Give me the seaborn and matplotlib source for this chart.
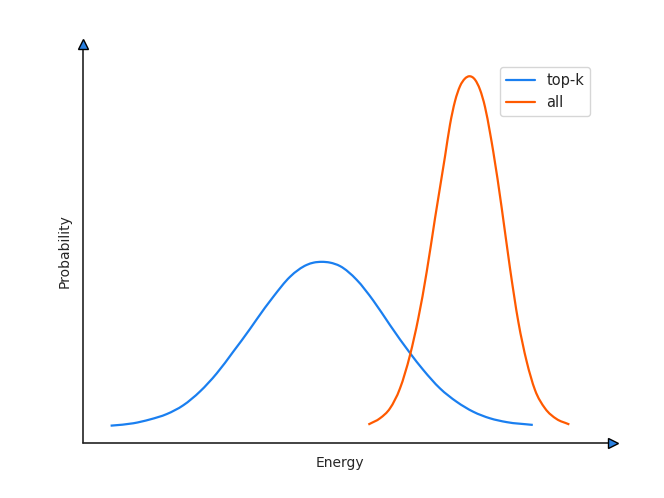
import matplotlib
matplotlib.use("Agg")
import matplotlib.pyplot as plt
from matplotlib.path import Path
from matplotlib.patches import PathPatch
from matplotlib.lines import Line2D
import seaborn as sns
import numpy as np

# Energy / probability values (arbitrary units)
topk_energy = [0.558, 0.977, 1.302, 1.627, 1.949, 2.274, 2.598, 2.921, 3.245, 3.375,
               3.698, 4.023, 4.347, 4.483, 4.639, 4.800, 4.994, 5.319, 5.641, 5.966,
               6.355, 6.613, 6.937, 7.262, 7.585, 7.909, 8.234, 8.719]
topk_prob = [0.046, 0.052, 0.062, 0.076, 0.099, 0.135, 0.182, 0.239, 0.298, 0.323,
             0.382, 0.434, 0.465, 0.471, 0.473, 0.471, 0.462, 0.426, 0.372, 0.308,
             0.235, 0.191, 0.143, 0.108, 0.082, 0.065, 0.055, 0.048]

all_energy = [5.564, 5.771, 5.966, 6.160, 6.355, 6.516, 6.679, 6.841, 7.035, 7.132,
              7.229, 7.326, 7.423, 7.507, 7.618, 7.715, 7.812, 7.909, 7.973, 8.137,
              8.298, 8.459, 8.622, 8.783, 8.978, 9.205, 9.431]
all_prob = [0.050, 0.065, 0.091, 0.143, 0.230, 0.326, 0.447, 0.587, 0.748, 0.831,
            0.892, 0.931, 0.951, 0.957, 0.948, 0.922, 0.877, 0.810, 0.760, 0.613,
            0.456, 0.317, 0.213, 0.139, 0.091, 0.063, 0.050]

series_labels = ["top-k", "all"]
series_colors = ["#1a7ff0", "#ff5a00"]
x_label = "Energy"
y_label = "Probability"

sns.set_style("white")
plt.rcParams["font.family"] = ["DejaVu Sans"]

fig = plt.figure(figsize=(6.64, 4.98), dpi=100)
ax = fig.add_axes([0.125, 0.11, 0.775, 0.77])


def smooth_path(xs, ys):
    """Cubic Bezier path (Hermite tangents) passing through every read-off point."""
    x = np.asarray(xs, float)
    y = np.asarray(ys, float)
    h = np.diff(x)
    d = np.diff(y) / h
    m = np.empty_like(y)
    m[0], m[-1] = d[0], d[-1]
    m[1:-1] = (h[1:] * d[:-1] + h[:-1] * d[1:]) / (h[:-1] + h[1:])
    verts = [(x[0], y[0])]
    codes = [Path.MOVETO]
    for i in range(len(x) - 1):
        verts += [(x[i] + h[i] / 3, y[i] + m[i] * h[i] / 3),
                  (x[i + 1] - h[i] / 3, y[i + 1] - m[i + 1] * h[i] / 3),
                  (x[i + 1], y[i + 1])]
        codes += [Path.CURVE4] * 3
    return Path(verts, codes)


handles = []
for xs, ys, lab, col in [(topk_energy, topk_prob, series_labels[0], series_colors[0]),
                         (all_energy, all_prob, series_labels[1], series_colors[1])]:
    ax.add_patch(PathPatch(smooth_path(xs, ys), facecolor="none", edgecolor=col,
                           linewidth=1.6, capstyle="projecting", joinstyle="round",
                           transform=ax.transData))
    handles.append(Line2D([], [], color=col, linewidth=1.6, label=lab))

ax.set_xlim(0, 10)
ax.set_ylim(0, 1)
ax.set_xticks([])
ax.set_yticks([])
for s in ax.spines.values():
    s.set_visible(False)

# axis lines with arrow heads
ax.plot([0, 1.03], [0, 0], transform=ax.transAxes, clip_on=False,
        color="#222222", linewidth=1.2)
ax.plot([0, 0], [0, 1.04], transform=ax.transAxes, clip_on=False,
        color="#222222", linewidth=1.2)
ax.plot([1.03], [0], transform=ax.transAxes, clip_on=False, marker=">",
        markersize=7, markerfacecolor="#2a80e0", markeredgecolor="black",
        markeredgewidth=1.0, linestyle="none")
ax.plot([0], [1.04], transform=ax.transAxes, clip_on=False, marker="^",
        markersize=7, markerfacecolor="#2a80e0", markeredgecolor="black",
        markeredgewidth=1.0, linestyle="none")

ax.set_xlabel(x_label, fontsize=10, labelpad=9)
ax.set_ylabel(y_label, fontsize=10, labelpad=8)

ax.legend(handles=handles, loc="upper right", fontsize=10.5)

fig.savefig("out.png", dpi=100)
